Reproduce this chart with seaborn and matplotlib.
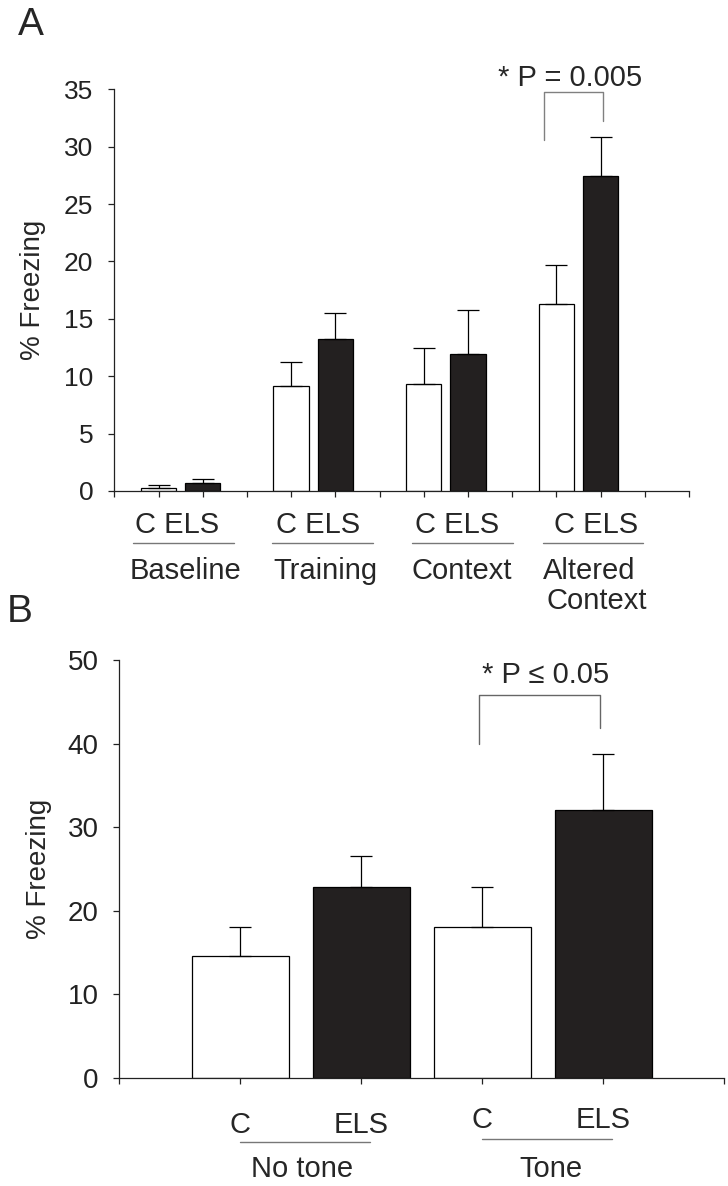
import numpy as np
import pandas as pd
import matplotlib
matplotlib.use("Agg")
import matplotlib.pyplot as plt
import matplotlib.transforms as mtransforms
import seaborn as sns

# -----------------------------
# DATA
# -----------------------------
# panel A: contextual fear conditioning phases
phases_a = ["Baseline", "Training", "Context", "Altered\nContext"]
c_mean_a = [0.27, 9.14, 9.28, 16.28]
c_sem_a = [0.23, 2.10, 3.17, 3.37]
els_mean_a = [0.70, 13.28, 11.95, 27.43]
els_sem_a = [0.37, 2.22, 3.83, 3.43]
yticks_a = [0, 5, 10, 15, 20, 25, 30, 35]
pval_a = "* P = 0.005"

# panel B: cued fear (tone)
conds_b = ["No tone", "Tone"]
c_mean_b = [14.6, 18.05]
c_sem_b = [3.5, 4.85]
els_mean_b = [22.8, 32.1]
els_sem_b = [3.7, 6.6]
yticks_b = [0, 10, 20, 30, 40, 50]
pval_b = "* P \u2264 0.05"

groups = ["C", "ELS"]
colors = {"C": "white", "ELS": "#231f20"}

# -----------------------------
# SETTINGS
# -----------------------------
W, H = 728, 1186
sns.set_style("ticks")
plt.rcParams["font.family"] = ["Liberation Sans", "DejaVu Sans"]
plt.rcParams["axes.linewidth"] = 0.9
plt.rcParams["axes.edgecolor"] = "#222222"
plt.rcParams["xtick.color"] = "#222222"
plt.rcParams["ytick.color"] = "#222222"


def fy(py):
    # pixel row -> figure fraction
    return 1 - py / H


def make_frame(c_mean, c_sem, e_mean, e_sem, step):
    rows = []
    for i in range(len(c_mean)):
        rows.append({"pos": step * i + 1, "value": c_mean[i], "sem": c_sem[i], "group": "C"})
        rows.append({"pos": step * i + 2, "value": e_mean[i], "sem": e_sem[i], "group": "ELS"})
    return pd.DataFrame(rows)


def draw_bars(ax, df):
    sns.barplot(data=df, x="pos", y="value", hue="group", hue_order=groups,
                palette=colors, native_scale=True, dodge=False, width=0.8,
                edgecolor="black", linewidth=0.9, errorbar=None, legend=False, ax=ax)
    ax.errorbar(df["pos"], df["value"], yerr=[np.zeros(len(df)), df["sem"]],
                fmt="none", ecolor="black", elinewidth=0.9, capsize=8,
                capthick=0.9, zorder=5)


def style_axis(ax, xmax, yticks, size):
    ax.set_xlim(0, xmax)
    ax.set_ylim(0, yticks[-1])
    ax.set_xticks(range(0, xmax + 1))
    ax.set_xticklabels([])
    ax.set_yticks(yticks)
    ax.set_yticklabels([str(t) for t in yticks], fontsize=size)
    ax.tick_params(axis="both", direction="out", length=4, width=0.9)
    ax.tick_params(axis="y", pad=11)
    ax.set_xlabel("")
    ax.set_ylabel("% Freezing", fontsize=20)
    sns.despine(ax=ax)


fig = plt.figure(figsize=(W / 100, H / 100), dpi=100)

# -----------------------------
# PANEL A
# -----------------------------
ax_a = fig.add_axes([114.3 / W, fy(491), 574.7 / W, 401.7 / H])
df_a = make_frame(c_mean_a, c_sem_a, els_mean_a, els_sem_a, 3)
draw_bars(ax_a, df_a)
style_axis(ax_a, 13, yticks_a, 19)
ax_a.yaxis.set_label_coords(-0.118, 0.5)

ta = mtransforms.blended_transform_factory(ax_a.transData, fig.transFigure)
pair_x_a = [1.43, 4.61, 7.75, 10.89]
line_x_a = [0.42, 3.57, 6.73, 9.69]
name_x_a = [1.60, 4.78, 7.87, 9.70]
for i, name in enumerate(phases_a):
    fig.text(pair_x_a[i], fy(533), "C ELS", transform=ta, ha="center",
             va="baseline", fontsize=21)
    ax_a.plot([line_x_a[i], line_x_a[i] + 2.28], [fy(543.3)] * 2, transform=ta,
              color="#777777", lw=1.0, clip_on=False)
    lines = name.split("\n")
    if len(lines) == 1:
        fig.text(name_x_a[i], fy(579), name, transform=ta, ha="center",
                 va="baseline", fontsize=21)
    else:
        for j, ln in enumerate(lines):
            fig.text(name_x_a[i] + 0.08 * j, fy(579 + 30 * j), ln, transform=ta,
                     ha="left", va="baseline", fontsize=21)

# significance bracket
ax_a.plot([9.73, 9.73, 11.05, 11.05], [30.6, 34.8, 34.8, 32.24], color="#808080",
          lw=1.0, clip_on=False)
fig.text(10.31, fy(85.7), pval_a, transform=ta, ha="center", va="baseline", fontsize=21)

fig.text(18 / W, fy(35), "A", ha="left", va="baseline", fontsize=28)

# -----------------------------
# PANEL B
# -----------------------------
ax_b = fig.add_axes([119.3 / W, fy(1078), 605 / W, 418 / H])
df_b = make_frame(c_mean_b, c_sem_b, els_mean_b, els_sem_b, 2)
draw_bars(ax_b, df_b)
style_axis(ax_b, 5, yticks_b, 20)
ax_b.yaxis.set_label_coords(-0.112, 0.5)

tb = mtransforms.blended_transform_factory(ax_b.transData, fig.transFigure)
label_y_b = [1133, 1128]
line_y_b = [1142, 1139]
name_x_b = [1.51, 3.57]
for i, name in enumerate(conds_b):
    for k, g in enumerate(groups):
        fig.text(2 * i + 1 + k, fy(label_y_b[i]), g, transform=tb, ha="center",
                 va="baseline", fontsize=21)
    ax_b.plot([2 * i + 1, 2 * i + 2.07], [fy(line_y_b[i])] * 2, transform=tb,
              color="#777777", lw=1.0, clip_on=False)
    fig.text(name_x_b[i], fy(1177), name, transform=tb, ha="center",
             va="baseline", fontsize=21)

ax_b.plot([2.97, 2.97, 3.97, 3.97], [40.0, 45.8, 45.8, 41.9], color="#666666",
          lw=1.0, clip_on=False)
fig.text(3.52, fy(683), pval_b, transform=tb, ha="center", va="baseline", fontsize=21)

fig.text(7 / W, fy(622), "B", ha="left", va="baseline", fontsize=28)

fig.savefig("out.png", dpi=100)
